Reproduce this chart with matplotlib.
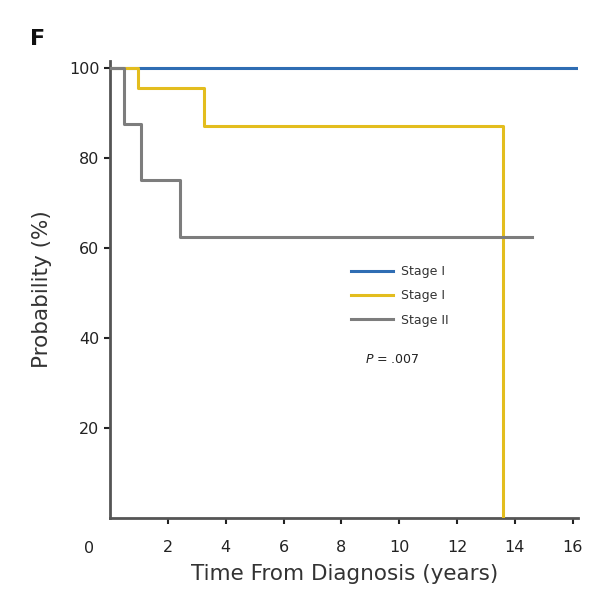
import matplotlib
matplotlib.use("Agg")
import matplotlib.pyplot as plt

# Kaplan-Meier step data (time in years, probability in %)
stage1_time = [0, 16.1]
stage1_prob = [100, 100]

stage2_time = [0, 0.97, 3.25, 13.6, 13.6]
stage2_prob = [100, 95.6, 87.0, 87.0, 0]

stage3_time = [0, 0.48, 1.07, 2.42, 14.6]
stage3_prob = [100, 87.5, 75.0, 62.5, 62.5]

series_labels = ["Stage I", "Stage I", "Stage II"]
series_colors = ["#2f6db3", "#e3bd1e", "#7d7d7d"]

x_ticks = [2, 4, 6, 8, 10, 12, 14, 16]
y_ticks = [20, 40, 60, 80, 100]

plt.rcParams["font.family"] = ["DejaVu Sans"]

fig = plt.figure(figsize=(5.93, 5.98), dpi=100)
ax = fig.add_axes([0.1855, 0.1338, 0.79, 0.764])

ax.step(stage1_time, stage1_prob, where="post", color=series_colors[0], lw=2.2,
        label=series_labels[0], zorder=2)
ax.step(stage2_time, stage2_prob, where="post", color=series_colors[1], lw=2.2,
        label=series_labels[1], zorder=3)
ax.step(stage3_time, stage3_prob, where="post", color=series_colors[2], lw=2.2,
        label=series_labels[2], zorder=4)

ax.set_xlim(0, 16.2)
ax.set_ylim(0, 101.5)
ax.set_xticks(x_ticks)
ax.set_yticks(y_ticks)
ax.tick_params(axis="both", labelsize=11.5, colors="#222222", length=4, width=1.5)
ax.tick_params(axis="x", pad=12)

for side in ["top", "right"]:
    ax.spines[side].set_visible(False)
for side in ["left", "bottom"]:
    ax.spines[side].set_color("#555555")
    ax.spines[side].set_linewidth(2)

# shared origin label
ax.text(-0.73, -6.8, "0", fontsize=11.5, color="#222222", ha="center", va="center")

ax.set_xlabel("Time From Diagnosis (years)", fontsize=15.5, color="#333333", labelpad=6)
ax.set_ylabel("Probability (%)", fontsize=15.5, color="#333333", labelpad=12)

leg = ax.legend(loc="upper left", bbox_to_anchor=(0.49, 0.578), frameon=False,
                fontsize=9, handlelength=3.4, labelspacing=0.9, handletextpad=0.6)
for t in leg.get_texts():
    t.set_color("#333333")

ax.text(0.545, 0.346, "$P$ = .007", transform=ax.transAxes, fontsize=9,
        color="#222222", va="center")

fig.text(0.05, 0.925, "F", fontsize=16, fontweight="bold", color="#111111")

fig.savefig("out.png", dpi=100)
